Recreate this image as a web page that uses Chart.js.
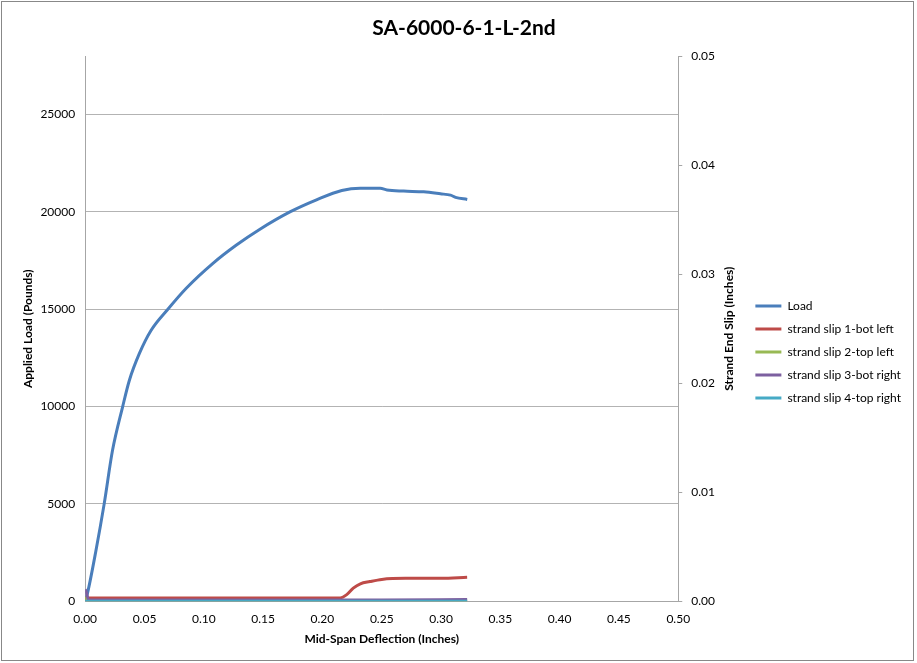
<!DOCTYPE html>
<html>
<head>
<meta charset="utf-8">
<script src="https://cdn.jsdelivr.net/npm/chart.js@4/dist/chart.umd.min.js"></script>
<style>
  body { margin: 0; background: #fff; }
  #wrap { width: 917px; height: 663px; position: relative; }
</style>
</head>
<body>
<div id="wrap"><canvas id="myChart"></canvas></div>
<script>
// deflection (in) / load (lb)
var loadX = [0, 0.002, 0.009, 0.016, 0.023, 0.0316, 0.0372, 0.0457, 0.0556, 0.0697, 0.0852, 0.1077, 0.1275, 0.147, 0.1726, 0.195, 0.2163, 0.2318, 0.2487, 0.2544, 0.2685, 0.2854, 0.2995, 0.308, 0.3122, 0.3221];
var loadY = [0, 430, 2580, 5000, 7740, 10000, 11340, 12730, 13920, 15000, 16080, 17360, 18300, 19100, 20000, 20620, 21100, 21220, 21220, 21130, 21070, 21030, 20930, 20860, 20750, 20640];

// strand slips (in), right axis
var slip1X = [0, 0.05, 0.10, 0.15, 0.20, 0.215, 0.2205, 0.226, 0.232, 0.24, 0.25, 0.27, 0.30, 0.322];
var slip1Y = [0.0003, 0.0003, 0.0003, 0.0003, 0.0003, 0.0003, 0.0006, 0.0012, 0.0016, 0.0018, 0.0020, 0.0021, 0.0021, 0.0022];
var slip2X = [0, 0.002, 0.1, 0.2, 0.322];
var slip2Y = [0.0004, 0.00005, 0.00005, 0.00005, 0.00005];
var slip3X = [0, 0.001, 0.003, 0.05, 0.15, 0.25, 0.322];
var slip3Y = [0.0011, 0.0008, 0.0001, 0.0001, 0.0001, 0.00012, 0.00015];
var slip4X = [0, 0.1, 0.2, 0.322];
var slip4Y = [0, 0, 0, 0];

var xTicks = [0, 0.05, 0.1, 0.15, 0.2, 0.25, 0.3, 0.35, 0.4, 0.45, 0.5];
var yTicks = [0, 5000, 10000, 15000, 20000, 25000];
var y1Ticks = [0, 0.01, 0.02, 0.03, 0.04, 0.05];

function pts(xs, ys) {
  return xs.map(function (x, i) { return { x: x, y: ys[i] }; });
}

var FONT = "Lato, 'Open Sans', sans-serif";

function series(label, xs, ys, color, axis, order) {
  return {
    label: label,
    data: pts(xs, ys),
    borderColor: color,
    backgroundColor: color,
    borderWidth: 3,
    pointRadius: 0,
    showLine: true,
    cubicInterpolationMode: "monotone",
    yAxisID: axis,
    order: order
  };
}

// white background, frame, and the right axis title reading bottom-to-top
var decor = {
  id: "decor",
  beforeDraw: function (chart) {
    var c = chart.ctx;
    c.save();
    c.fillStyle = "#fff";
    c.fillRect(0, 0, chart.width, chart.height);
    c.strokeStyle = "#888";
    c.lineWidth = 1;
    c.strokeRect(1.5, 1.5, chart.width - 5, chart.height - 4);
    c.restore();
  },
  afterDraw: function (chart) {
    var s = chart.scales.y1;
    var c = chart.ctx;
    c.save();
    c.font = "bold 12px " + FONT;
    c.fillStyle = "#000";
    c.textAlign = "center";
    c.textBaseline = "middle";
    c.translate(s.right - 15, (s.top + s.bottom) / 2);
    c.rotate(-Math.PI / 2);
    c.fillText("Strand End Slip (Inches)", 0, 0);
    c.restore();
  }
};

var ctx = document.getElementById("myChart");
var chart = new Chart(ctx, {
  type: "scatter",
  data: {
    datasets: [
      series("Load", loadX, loadY, "#4A7EBB", "y", 5),
      series("strand slip 1-bot left", slip1X, slip1Y, "#BE4B48", "y1", 4),
      series("strand slip 2-top left", slip2X, slip2Y, "#98B954", "y1", 3),
      series("strand slip 3-bot right", slip3X, slip3Y, "#7D60A0", "y1", 2),
      series("strand slip 4-top right", slip4X, slip4Y, "#46AAC5", "y1", 1)
    ]
  },
  options: {
    responsive: true,
    maintainAspectRatio: false,
    animation: false,
    layout: { padding: { left: 17, right: 6, top: 0, bottom: 17 } },
    plugins: {
      title: {
        display: true,
        text: "SA-6000-6-1-L-2nd",
        color: "#000",
        font: { family: FONT, size: 21, weight: "bold" },
        padding: { top: 16, bottom: 15 }
      },
      legend: {
        position: "right",
        maxWidth: 260,
        title: { display: true, text: "", font: { size: 10 }, padding: { top: 23, bottom: 23 } },
        labels: {
          color: "#000",
          font: { family: FONT, size: 12 },
          usePointStyle: true,
          pointStyle: "line",
          pointStyleWidth: 26,
          padding: 11,
          sort: function (a, b) { return a.datasetIndex - b.datasetIndex; }
        }
      },
      tooltip: { enabled: false }
    },
    scales: {
      x: {
        type: "linear",
        min: 0,
        max: 0.5,
        afterBuildTicks: function (axis) { axis.ticks = xTicks.map(function (v) { return { value: v }; }); },
        ticks: {
          color: "#000",
          font: { family: FONT, size: 12 },
          padding: 11,
          maxRotation: 0,
          callback: function (v) { return v.toFixed(2); }
        },
        grid: { drawOnChartArea: false, drawTicks: false },
        border: { color: "#a6a6a6" },
        title: {
          display: true,
          text: "Mid-Span Deflection (Inches)",
          color: "#000",
          font: { family: FONT, size: 12, weight: "bold" },
          padding: { top: -6, bottom: 0 }
        }
      },
      y: {
        position: "left",
        min: 0,
        max: 28000,
        afterBuildTicks: function (axis) { axis.ticks = yTicks.map(function (v) { return { value: v }; }); },
        ticks: {
          color: "#000",
          font: { family: FONT, size: 12 },
          padding: 10,
          callback: function (v) { return String(v); }
        },
        grid: { color: "#b3b3b3", drawTicks: false },
        border: { color: "#a6a6a6" },
        title: {
          display: true,
          text: "Applied Load (Pounds)",
          color: "#000",
          font: { family: FONT, size: 12, weight: "bold" },
          padding: { top: 4, bottom: -5 }
        }
      },
      y1: {
        position: "right",
        min: 0,
        max: 0.05,
        afterBuildTicks: function (axis) { axis.ticks = y1Ticks.map(function (v) { return { value: v }; }); },
        ticks: {
          color: "#000",
          font: { family: FONT, size: 12 },
          padding: 9,
          callback: function (v) { return v.toFixed(2); }
        },
        grid: { drawOnChartArea: false, tickLength: 4, color: "#a6a6a6" },
        border: { color: "#a6a6a6" },
        title: {
          display: true,
          text: "Strand End Slip (Inches)",
          color: "rgba(0,0,0,0)",
          font: { family: FONT, size: 12, weight: "bold" },
          padding: { top: -2, bottom: 8 }
        }
      }
    }
  },
  plugins: [decor]
});
</script>
</body>
</html>
